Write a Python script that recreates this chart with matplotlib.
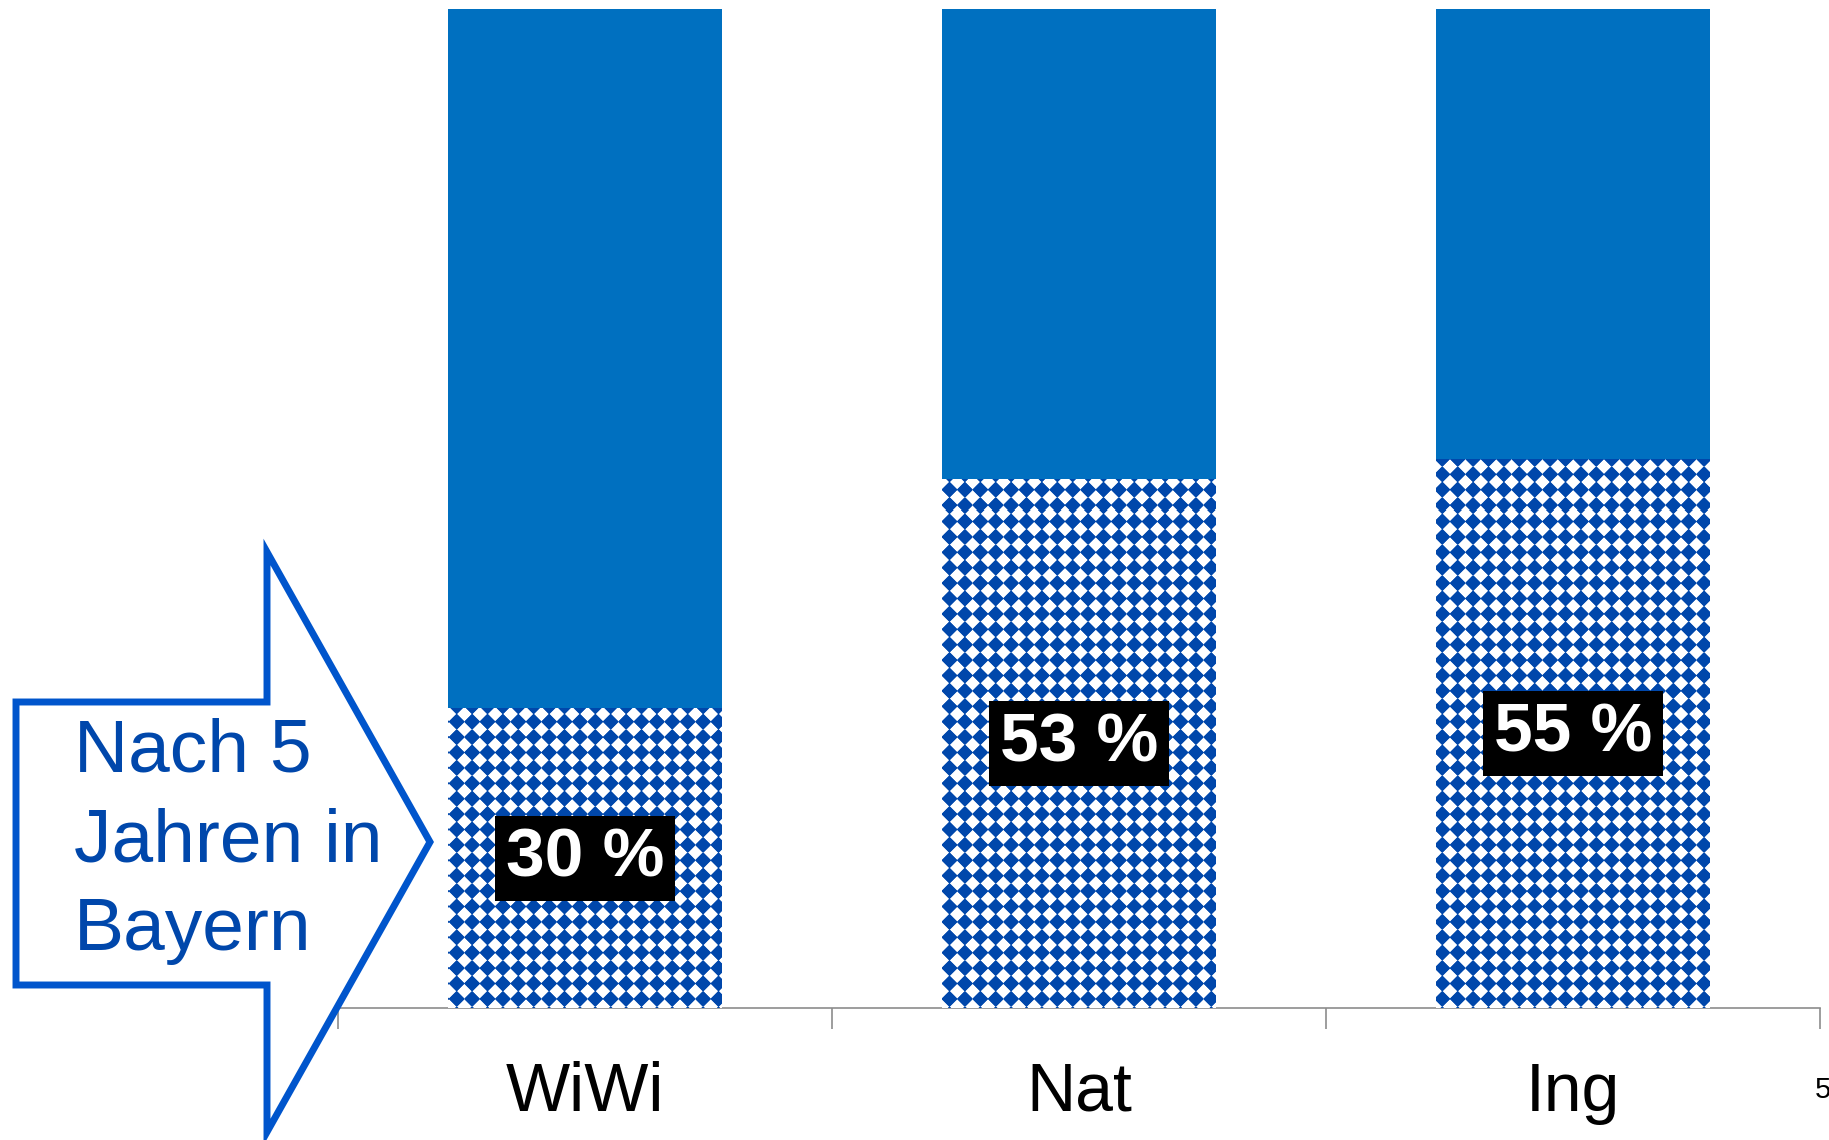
import numpy as np
import matplotlib
matplotlib.use('Agg')
import matplotlib.pyplot as plt
from matplotlib.patches import Polygon
from matplotlib.colors import to_rgb

# ---------------- data ----------------
categories = ['WiWi', 'Nat', 'Ing']
share_bayern = [30, 53, 55]                 # % still in Bavaria after 5 years (patterned part)
share_rest = [100 - v for v in share_bayern]  # remaining part (solid)
pct_labels = ['30 %', '53 %', '55 %']
arrow_lines = ['Nach 5', 'Jahren in', 'Bayern']
page_number = '5'

# ---------------- figure ----------------
W, H, DPI = 1829, 1140, 100
plt.rcParams['font.family'] = ['Liberation Sans', 'DejaVu Sans']
fig = plt.figure(figsize=(W / DPI, H / DPI), dpi=DPI)
fig.patch.set_facecolor('white')

ax_l, ax_r, ax_b, ax_t = 338, 1820, 1008, 9
ax = fig.add_axes([ax_l / W, 1 - ax_b / H, (ax_r - ax_l) / W, (ax_b - ax_t) / H])

solid_col = '#0070C0'
diamond_col = '#0047AB'
axis_col = '#8C8C8C'

x = np.arange(len(categories))
width = 0.553
bars_low = ax.bar(x, share_bayern, width, color='white', linewidth=0, zorder=2)
ax.bar(x, share_rest, width, bottom=share_bayern, color=solid_col, linewidth=0, zorder=2)

# diamond-checker texture (figure-pixel grid), clipped to each lower bar
aw, ah = ax_r - ax_l, ax_b - ax_t
period = 15.4
cx0, cy0 = 456.7, 490.7   # a diamond centre in figure pixels
FX, FY = np.meshgrid(ax_l + np.arange(aw) + 0.5, ax_t + np.arange(ah) + 0.5)
dx = (((FX - cx0 + period / 2) % period) - period / 2) / (period / 2)
dy = (((FY - cy0 + period / 2) % period) - period / 2) / (period / 2)
d = np.abs(dx) + np.abs(dy)
a = np.clip((1.06 - d) / 0.16 + 0.5, 0, 1)[..., None]
blue = np.array(to_rgb(diamond_col))
img = (1 - a) * np.ones(3) + a * blue
for bar in bars_low:
    im = ax.imshow(img, extent=(-0.5, 2.5, 0, 100), origin='upper', aspect='auto',
                   interpolation='nearest', zorder=3)
    im.set_clip_path(bar)

for i, (v, lab) in enumerate(zip(share_bayern, pct_labels)):
    ax.text(x[i], v / 2, lab, ha='center', va='center', color='white', fontsize=50,
            fontweight='bold', zorder=6,
            bbox=dict(boxstyle='square,pad=0.15', fc='black', ec='none'))

ax.set_xlim(-0.5, 2.5)
ax.set_ylim(0, 100)
for s in ['top', 'left', 'right']:
    ax.spines[s].set_visible(False)
ax.spines['bottom'].set_color(axis_col)
ax.spines['bottom'].set_linewidth(1.2)
ax.set_yticks([])
ax.set_xticks(x)
ax.set_xticklabels(categories, fontsize=49, color='black')
ax.set_xticks([-0.5, 0.5, 1.5, 2.5], minor=True)
ax.tick_params(axis='x', which='major', length=0, pad=38)
ax.tick_params(axis='x', which='minor', length=15, width=1.2, color=axis_col, direction='out')
ax.set_facecolor('none')

# ---------------- arrow shape ----------------
def fp(xp, yp):
    return (xp / W, 1 - yp / H)

arrow_px = [(16, 702), (267, 702), (267, 552), (430, 842), (267, 1132), (267, 985), (16, 985)]
arrow = Polygon([fp(*p) for p in arrow_px], closed=True, transform=fig.transFigure,
                facecolor='white', edgecolor='#0055CC', linewidth=5, joinstyle='miter', zorder=3)
fig.add_artist(arrow)

for line, base in zip(arrow_lines, [772, 861, 950]):
    fig.text(*fp(74, base), line, ha='left', va='baseline', fontsize=54, color='#0047AB', zorder=4)

fig.text(*fp(1815, 1098), page_number, ha='left', va='baseline', fontsize=21, color='black')

fig.savefig('out.png', dpi=DPI)
